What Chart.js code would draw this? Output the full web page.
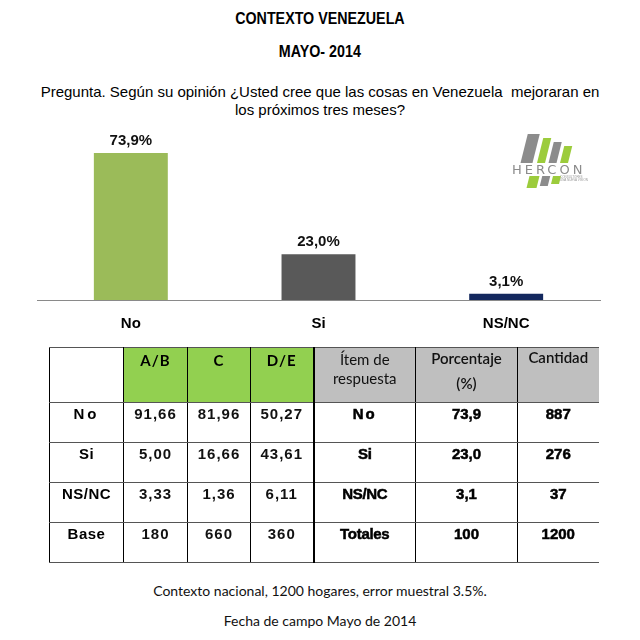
<!DOCTYPE html>
<html>
<head>
<meta charset="utf-8">
<script src="https://cdn.jsdelivr.net/npm/chart.js@4.4.1/dist/chart.umd.min.js"></script>
<style>
  html, body { margin:0; padding:0; background:#fff; }
  body { width:640px; height:640px; position:relative; overflow:hidden; font-family:"Liberation Sans", Arial, sans-serif; color:#000; }
  .ttl { position:absolute; left:0; width:640px; text-align:center; font-family:"Liberation Sans Narrow","Liberation Sans",sans-serif; font-weight:bold; font-size:17px; }
  .ttl span { display:inline-block; transform:scaleX(0.84); }
  #q { position:absolute; left:0; width:640px; top:83px; text-align:center; font-size:15px; line-height:18px; white-space:pre; }
  #chartBox { position:absolute; left:0; top:120px; width:640px; height:236px; }
  #tbl { position:absolute; left:49px; top:347px; border-collapse:collapse; table-layout:fixed; }
  #tbl td { padding:0; vertical-align:top; text-align:center; box-sizing:border-box; }
  .foot { position:absolute; left:0; width:640px; text-align:center; font-family:Lato, "Open Sans", sans-serif; font-size:14px; color:#111; }
  .logo { position:absolute; }
</style>
</head>
<body>
<div class="ttl" style="top:9px"><span id="t1"></span></div>
<div class="ttl" style="top:42px"><span id="t2"></span></div>
<div id="q"></div>
<div id="chartBox"><canvas id="c" width="640" height="236"></canvas></div>

<!-- HERCON logo (decorative) -->
<div class="logo" style="left:524px;top:134px;width:12px;height:30px;background:#8c8c8c;transform:skewX(-14deg)"></div>
<div class="logo" style="left:540px;top:138px;width:8px;height:26px;background:#9ccc3c;transform:skewX(-14deg)"></div>
<div class="logo" style="left:551px;top:142px;width:8px;height:22px;background:#8c8c8c;transform:skewX(-14deg)"></div>
<div class="logo" style="left:562px;top:146px;width:8px;height:18px;background:#9ccc3c;transform:skewX(-14deg)"></div>
<div class="logo" style="left:528px;top:176px;width:10px;height:12px;background:#9ccc3c;transform:skewX(-14deg)"></div>
<div class="logo" style="left:541px;top:176px;width:8px;height:10px;background:#8c8c8c;transform:skewX(-14deg)"></div>
<div class="logo" style="left:552px;top:176px;width:8px;height:8px;background:#9ccc3c;transform:skewX(-14deg)"></div>
<div class="logo" style="left:511px;top:163px;font-family:'DejaVu Sans',sans-serif;font-size:13px;letter-spacing:3px;color:#8c8c8c;line-height:13px;background:#fff;padding:0 1px">HERCON</div>
<div class="logo" style="left:560px;top:176px;font-size:3px;color:#999;line-height:3px">CONSULTORES<br>UNA NUEVA VISION</div>

<table id="tbl"></table>
<div class="foot" id="f1" style="top:582px"></div>
<div class="foot" id="f2" style="top:612px"></div>

<script>
// ---- texts ----
const titleLine1 = 'CONTEXTO VENEZUELA';
const titleLine2 = 'MAYO- 2014';
const questionText = 'Pregunta. Según su opinión ¿Usted cree que las cosas en Venezuela  mejoraran en\nlos próximos tres meses?';
const footLine1 = 'Contexto nacional, 1200 hogares, error muestral 3.5%.';
const footLine2 = 'Fecha de campo Mayo de 2014';

// ---- chart data ----
const categories = ['No', 'Si', 'NS/NC'];
const porcentajes = [73.9, 23.0, 3.1];

// ---- table data ----
const segmentHeaders = ['A/B', 'C', 'D/E'];
const rowLabels = ['No', 'Si', 'NS/NC', 'Base'];
const segAB = ['91,66', '5,00', '3,33', '180'];
const segC  = ['81,96', '16,66', '1,36', '660'];
const segDE = ['50,27', '43,61', '6,11', '360'];
const itemLabels = ['No', 'Si', 'NS/NC', 'Totales'];
const itemPorcentaje = ['73,9', '23,0', '3,1', '100'];
const itemCantidad = ['887', '276', '37', '1200'];

document.getElementById('t1').textContent = titleLine1;
document.getElementById('t2').textContent = titleLine2;
document.getElementById('q').textContent = questionText;
document.getElementById('f1').textContent = footLine1;
document.getElementById('f2').textContent = footLine2;

// ---- build table ----
(function(){
  const colW = [74, 64, 63, 63, 102, 102, 81];
  const tbl = document.getElementById('tbl');
  const cg = document.createElement('colgroup');
  colW.forEach(w => { const c = document.createElement('col'); c.style.width = w + 'px'; cg.appendChild(c); });
  tbl.appendChild(cg);
  const H = '1px solid #555';
  const V = '1px solid #000';
  function cell(tr, html, st) {
    const td = document.createElement('td');
    td.innerHTML = html;
    Object.assign(td.style, st || {});
    tr.appendChild(td);
    return td;
  }
  // header
  const hr = document.createElement('tr'); hr.style.height = '55px';
  cell(hr, '', {borderTop:H, borderLeft:V, borderRight:V, borderBottom:H});
  segmentHeaders.forEach((h, i) => cell(hr, h, {background:'#92D050', borderTop:H, borderRight: i===2 ? '2px solid #000' : V, borderBottom:H,
    fontFamily:'Lato, sans-serif', fontWeight:'bold', fontSize:'15px', letterSpacing:'1px', paddingTop:'3px', lineHeight:'18px'}));
  const gray = {background:'#BFBFBF', borderTop:H, borderBottom:H, fontFamily:'Lato, sans-serif', color:'#111'};
  cell(hr, 'Ítem de<br>respuesta', Object.assign({}, gray, {borderRight:V, fontSize:'15px', lineHeight:'19px', paddingTop:'2px'}));
  cell(hr, '<div style="line-height:20px">Porcentaje</div><div style="line-height:20px;margin-top:5px">(%)</div>', Object.assign({}, gray, {borderRight:V, fontSize:'15px', fontWeight:'600', paddingTop:'0px'}));
  cell(hr, 'Cantidad', Object.assign({}, gray, {fontSize:'15px', fontWeight:'600', lineHeight:'18px', paddingTop:'0px'}));
  tbl.appendChild(hr);
  // body rows
  rowLabels.forEach((lab, r) => {
    const tr = document.createElement('tr'); tr.style.height = '40px';
    const base = {borderBottom:H, fontSize:'15px', lineHeight:'18px', paddingTop:'2px', fontWeight:'bold'};
    cell(tr, lab, Object.assign({}, base, {borderLeft:V, borderRight:V, letterSpacing: lab === 'No' ? '3px' : '0.5px'}));
    [segAB, segC, segDE].forEach((arr, i) => cell(tr, arr[r], Object.assign({}, base, {borderRight: i===2 ? '2px solid #000' : V, letterSpacing:'1px', fontWeight:'bold', color:'#111'})));
    const heavy = Object.assign({}, base, {webkitTextStroke:'0.5px #000'});
    cell(tr, itemLabels[r], Object.assign({}, heavy, {borderRight:V, letterSpacing: itemLabels[r]==='No' ? '2px' : '-0.3px'}));
    cell(tr, itemPorcentaje[r], Object.assign({}, heavy, {borderRight:V}));
    cell(tr, itemCantidad[r], Object.assign({}, heavy, {}));
    tbl.appendChild(tr);
  });
})();

// ---- chart ----
const barColors = ['#9BBB59', '#595959', '#14285E'];
const valueLabelPlugin = {
  id: 'valueLabels',
  afterDatasetsDraw(chart) {
    const ctx = chart.ctx;
    const meta = chart.getDatasetMeta(0);
    ctx.save();
    ctx.font = 'bold 15px "Liberation Sans", Arial, sans-serif';
    ctx.fillStyle = '#111';
    ctx.textAlign = 'center';
    ctx.textBaseline = 'alphabetic';
    meta.data.forEach((bar, i) => {
      const v = chart.data.datasets[0].data[i];
      ctx.fillText(v.toFixed(1).replace('.', ',') + '%', bar.x, bar.y - 8);
    });
    ctx.restore();
  }
};

new Chart(document.getElementById('c'), {
  type: 'bar',
  data: {
    labels: categories,
    datasets: [{
      data: porcentajes,
      backgroundColor: barColors,
      borderWidth: 0,
      categoryPercentage: 1.0,
      barPercentage: 0.394
    }]
  },
  options: {
    responsive: false,
    animation: false,
    events: [],
    layout: { padding: { left: 37, right: 40, top: 21, bottom: 8 } },
    plugins: { legend: { display: false }, tooltip: { enabled: false }, title: { display: false } },
    scales: {
      y: { display: false, min: 0, max: 80 },
      x: {
        grid: { display: false, drawTicks: false },
        border: { display: true, color: '#8a8a8a', width: 1 },
        ticks: { color: '#000', padding: 15, font: { family: '"Liberation Sans", Arial, sans-serif', size: 15, weight: 'bold' } }
      }
    }
  },
  plugins: [valueLabelPlugin]
});
</script>
</body>
</html>
